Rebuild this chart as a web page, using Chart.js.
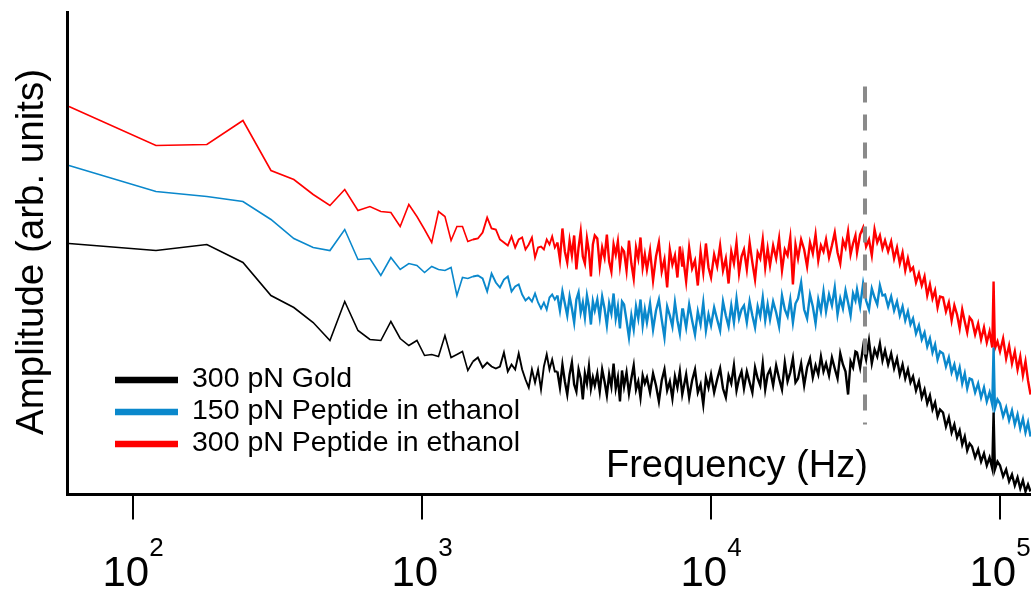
<!DOCTYPE html>
<html>
<head>
<meta charset="utf-8">
<title>Amplitude spectrum</title>
<script src="https://cdn.jsdelivr.net/npm/chart.js@4.4.1/dist/chart.umd.min.js"></script>
<style>
  html, body { margin: 0; padding: 0; background: #fff; }
  #spectrum { display: block; }
</style>
</head>
<body>
<canvas id="spectrum" width="1031" height="590"></canvas>
<script>
// Frequency bins (Hz) shared by all three spectra
const freqHz = [
  60, 120, 180, 240, 300, 360, 420, 480, 540, 600,
  660, 720, 780, 840, 900, 960, 1020, 1080, 1140, 1200,
  1260, 1320, 1380, 1440, 1500, 1560, 1620, 1680, 1740, 1800,
  1860, 1920, 1980, 2040, 2100, 2160, 2220, 2280, 2340, 2400,
  2460, 2520, 2580, 2640, 2700, 2760, 2820, 2880,
  2940, 3000, 3060, 3120, 3180, 3240, 3300, 3360, 3420, 3480, 3540, 3600, 3660, 3720, 3780, 3840, 3900, 3960,
  4040, 4120, 4200, 4280, 4360, 4440, 4520, 4600, 4680, 4760, 4840, 4920,
  5000, 5100, 5200, 5300, 5400, 5500, 5600, 5700, 5800, 5900,
  6000, 6150, 6300, 6450, 6600, 6750, 6900, 7050, 7200, 7350, 7500, 7650, 7800, 7950,
  8000, 8200, 8400, 8600, 8800, 9000, 9200, 9400, 9600, 9800,
  10000, 10250, 10500, 10750, 11000, 11250, 11500, 11750, 12000, 12250, 12500, 12750,
  13000, 13300, 13600, 13900, 14200, 14500, 14800, 15100, 15400, 15700,
  16000, 16400, 16800, 17200, 17600, 18000, 18400, 18800, 19200, 19600,
  20000, 20500, 21000, 21500, 22000, 22500, 23000, 23500, 24000, 24500,
  25000, 25600, 26200, 26800, 27400, 28000, 28600, 29200, 29800, 30400, 31000, 31600,
  32000, 32800, 33600, 34400, 35200, 36000, 36800, 37600, 38400, 39200,
  40000, 41000, 42000, 43000, 44000, 45000, 46000, 47000, 48000, 49000,
  50000, 51200, 52400, 53600, 54800, 56000, 57200, 58400, 59600, 60800, 62000,
  63500, 65000, 66500, 68000, 69500, 71000, 72500, 74000, 75500, 77000, 78500,
  80000, 82000, 84000, 86000, 88000, 90000, 92000, 94000, 95000, 96000, 98000,
  100000, 102500, 105000, 107500, 110000, 112500, 115000, 117500, 120000, 122500, 125000, 127500
];

// Amplitudes, arbitrary units
const gold300 = [
  251, 244, 250, 232, 199, 187, 172, 154, 193, 164,
  155, 154, 173, 156, 149, 154, 139, 140, 138, 159,
  137, 140, 143, 124, 133, 137, 127, 132, 128, 126,
  128, 142, 123, 130, 125, 141, 125, 115, 107, 125,
  112, 125, 105, 128, 140, 125, 135, 123,
  123, 107, 130, 113, 100, 120, 132, 110, 103, 125, 116, 95, 121, 111, 128, 106, 117, 109,
  121, 103, 125, 113, 99, 120, 108, 131, 106, 117, 93, 124,
  108, 122, 101, 116, 129, 105, 113, 97, 119, 111,
  117, 102, 121, 109, 93, 114, 125, 104, 113, 96, 118, 107, 123, 100,
  104, 120, 97, 114, 125, 102, 110, 90, 117, 107,
  120, 102, 115, 126, 106, 97, 119, 111, 129, 104, 116, 123,
  106, 123, 112, 102, 127, 116, 109, 131, 105, 120,
  125, 109, 129, 116, 105, 132, 113, 122, 136, 112,
  116, 131, 109, 127, 136, 117, 129, 120, 138, 123,
  131, 119, 137, 126, 116, 141, 130, 123, 100, 133, 127, 143,
  142, 127, 148, 135, 154, 131, 145, 138, 151, 134,
  144, 130, 141, 126, 136, 120, 130, 116, 125, 112,
  118, 104, 113, 97, 105, 91, 99, 85, 92, 78, 85,
  82, 68, 77, 62, 70, 57, 64, 50, 58, 44, 51,
  48, 37, 45, 33, 41, 29, 37, 26, 82, 25, 33,
  29, 18, 25, 13, 20, 9, 17, 6, 14, 3, 10, 3
];

const peptide150 = [
  329, 303, 298, 293, 275, 256, 247, 244, 265, 235,
  236, 219, 237, 225, 231, 229, 222, 228, 225, 224,
  227, 199, 217, 216, 218, 219, 216, 203, 221, 212,
  207, 215, 218, 203, 208, 210, 200, 194, 197, 193,
  201, 192, 186, 192, 185, 197, 200, 195,
  199, 184, 203, 191, 179, 198, 186, 172, 195, 202, 182, 192, 177, 199, 188, 170, 193, 184,
  195, 177, 198, 186, 169, 191, 181, 201, 176, 188, 166, 193,
  190, 174, 157, 179, 165, 188, 176, 195, 169, 185,
  172, 191, 165, 184, 195, 175, 157, 188, 179, 168, 192, 174, 161, 185,
  185, 167, 190, 174, 160, 183, 170, 192, 164, 180,
  169, 187, 175, 164, 193, 179, 168, 189, 172, 196, 176, 185,
  189, 172, 193, 179, 167, 188, 178, 197, 174, 190,
  175, 193, 182, 168, 199, 185, 178, 195, 172, 191,
  196, 212, 185, 176, 200, 188, 171, 195, 183, 203,
  183, 200, 189, 207, 180, 196, 186, 204, 192, 179, 201, 194,
  205, 188, 211, 194, 185, 206, 197, 190, 209, 199,
  200, 188, 198, 184, 193, 179, 188, 174, 183, 170,
  176, 161, 169, 155, 162, 148, 156, 142, 150, 135, 143,
  141, 128, 137, 122, 130, 117, 127, 111, 121, 106, 116,
  115, 102, 111, 97, 107, 93, 102, 90, 147, 86, 95,
  91, 78, 87, 74, 84, 70, 80, 66, 76, 62, 72, 58
];

const peptide300 = [
  388, 349, 350, 374, 324, 315, 300, 289, 305, 284,
  288, 283, 282, 268, 290, 278, 265, 252, 283, 278,
  254, 268, 268, 253, 255, 256, 262, 277, 266, 265,
  255, 252, 249, 258, 247, 255, 257, 245, 250, 257,
  237, 247, 248, 245, 255, 250, 258, 247,
  252, 235, 266, 243, 232, 254, 239, 259, 225, 247, 263, 238, 231, 256, 243, 218, 250, 259,
  256, 228, 247, 237, 260, 233, 223, 250, 240, 253, 229, 246,
  243, 224, 254, 231, 216, 247, 236, 257, 227, 240,
  225, 244, 214, 238, 252, 223, 235, 207, 245, 230, 239, 217, 248, 228,
  238, 213, 247, 226, 234, 209, 243, 222, 251, 227,
  217, 240, 228, 249, 224, 236, 211, 243, 231, 252, 221, 238,
  245, 225, 252, 232, 215, 242, 236, 255, 227, 246,
  229, 249, 236, 256, 224, 245, 239, 257, 210, 250,
  236, 255, 245, 228, 252, 241, 260, 234, 249, 243,
  255, 237, 249, 262, 242, 231, 254, 247, 263, 240, 251, 259,
  242, 260, 267, 248, 255, 239, 265, 252, 259, 246,
  254, 243, 253, 236, 247, 231, 242, 224, 236, 224,
  227, 212, 221, 209, 218, 199, 210, 196, 204, 187, 198,
  197, 183, 192, 174, 189, 180, 166, 185, 173, 162, 177,
  174, 160, 171, 155, 167, 152, 163, 147, 213, 146, 153,
  143, 156, 136, 149, 131, 143, 125, 138, 119, 133, 114, 100
];

const seriesLabels = ['300 pN Gold', '150 pN Peptide in ethanol', '300 pN Peptide in ethanol'];
const seriesColors = ['#000000', '#0a88cc', '#ff0000'];
const tickPowers = [2, 3, 4, 5];

// resonance marker (Hz) and the amplitude span it covers
const markerHz = 34100;
const markerSpan = [70, 408];

const FONT = "'Liberation Sans', Arial, sans-serif";

function toPoints(values) {
  return freqHz.map((f, i) => ({ x: f, y: values[i] }));
}

// the trace gets heavier where the bins crowd together
function traceWidth(hz) {
  if (hz < 1500) return 1.6;
  if (hz < 2900) return 1.9;
  return 2.4;
}

// draws 10^n labels under the major ticks
const powerLabels = {
  id: 'powerLabels',
  afterDraw(chart) {
    const ctx = chart.ctx;
    const xs = chart.scales.x;
    ctx.save();
    ctx.fillStyle = '#000';
    ctx.textBaseline = 'alphabetic';
    ctx.textAlign = 'left';
    tickPowers.forEach(p => {
      const px = xs.getPixelForValue(Math.pow(10, p));
      ctx.font = `42px ${FONT}`;
      const wBase = ctx.measureText('10').width;
      ctx.font = `26px ${FONT}`;
      const wExp = ctx.measureText(String(p)).width;
      const left = px - (wBase + wExp) / 2;
      ctx.font = `42px ${FONT}`;
      ctx.fillText('10', left, 586);
      ctx.font = `26px ${FONT}`;
      ctx.fillText(String(p), left + wBase, 556);
    });
    ctx.restore();
  }
};

// dashed vertical marker, axis titles and legend
const annotations = {
  id: 'annotations',
  afterDatasetsDraw(chart) {
    const ctx = chart.ctx;
    const xs = chart.scales.x;
    const ys = chart.scales.y;
    const mx = xs.getPixelForValue(markerHz);
    ctx.save();
    ctx.strokeStyle = '#8a8a8a';
    ctx.lineWidth = 4;
    ctx.setLineDash([16, 12]);
    ctx.beginPath();
    ctx.moveTo(mx, ys.getPixelForValue(markerSpan[1]));
    ctx.lineTo(mx, ys.getPixelForValue(markerSpan[0]));
    ctx.stroke();
    ctx.restore();
  },
  afterDraw(chart) {
    const ctx = chart.ctx;
    ctx.save();
    ctx.fillStyle = '#000';
    ctx.textBaseline = 'alphabetic';

    // x title sits inside the plot area
    ctx.font = `38px ${FONT}`;
    ctx.textAlign = 'left';
    ctx.fillText('Frequency (Hz)', 606, 477);

    // y title
    ctx.save();
    ctx.font = `38.5px ${FONT}`;
    ctx.translate(43, 252);
    ctx.rotate(-Math.PI / 2);
    ctx.textAlign = 'center';
    ctx.fillText('Amplitude (arb. units)', 0, 0);
    ctx.restore();

    // legend
    ctx.font = `28.5px ${FONT}`;
    ctx.textAlign = 'left';
    chart.data.datasets.forEach((ds, i) => {
      const cy = 380 + i * 32;
      ctx.strokeStyle = ds.borderColor;
      ctx.lineWidth = 6.5;
      ctx.beginPath();
      ctx.moveTo(115, cy);
      ctx.lineTo(178, cy);
      ctx.stroke();
      ctx.fillText(ds.label, 192, cy + 7);
    });
    ctx.restore();
  }
};

const datasets = [gold300, peptide150, peptide300].map((vals, i) => ({
  label: seriesLabels[i],
  data: toPoints(vals),
  borderColor: seriesColors[i],
  borderWidth: 1.6,
  pointRadius: 0,
  tension: 0,
  fill: false,
  segment: {
    borderWidth: ctx => traceWidth(ctx.p0.parsed.x)
  }
}));

new Chart(document.getElementById('spectrum'), {
  type: 'line',
  data: { datasets },
  options: {
    responsive: false,
    animation: false,
    devicePixelRatio: 1,
    layout: { padding: { top: 12, right: 0, bottom: 0, left: 0 } },
    plugins: {
      legend: { display: false },
      tooltip: { enabled: false }
    },
    scales: {
      x: {
        type: 'logarithmic',
        min: 59.3,
        max: 128000,
        afterBuildTicks: scale => {
          scale.ticks = tickPowers.map(p => ({ value: Math.pow(10, p), major: true }));
        },
        afterFit: scale => { scale.height = 95.5; },
        ticks: { display: false },
        grid: {
          display: true,
          drawOnChartArea: false,
          drawTicks: true,
          tickLength: 25,
          color: '#000',
          lineWidth: 2
        },
        border: { display: true, color: '#000', width: 3 }
      },
      y: {
        type: 'linear',
        min: 0,
        max: 482.5,
        afterFit: scale => { scale.width = 67.5; },
        ticks: { display: false },
        grid: { display: false, drawTicks: false },
        border: { display: true, color: '#000', width: 3 }
      }
    }
  },
  plugins: [powerLabels, annotations]
});
</script>
</body>
</html>
